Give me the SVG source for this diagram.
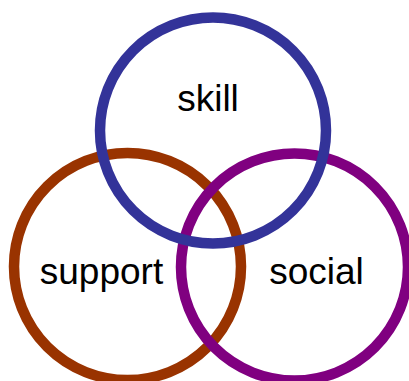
<svg xmlns="http://www.w3.org/2000/svg" width="409" height="381" viewBox="0 0 409 381">
<style>
.c{fill:none;stroke-width:10.5}
.t{font-family:"Liberation Sans",Arial,sans-serif;font-size:37px;fill:#000;text-anchor:middle}
</style>
<rect width="409" height="381" fill="#fff"/>
<g id="support">
<circle class="c" cx="127.5" cy="266.5" r="113.5" stroke="#993300"/>
</g>
<g id="social">
<circle class="c" cx="294.5" cy="267" r="113.5" stroke="#800080"/>
</g>
<g id="skill">
<circle class="c" cx="213" cy="130.5" r="113" stroke="#333399"/>
</g>
<g id="labels">
<text class="t" x="208" y="111">skill</text>
<text class="t" x="101.5" y="284">support</text>
<text class="t" x="316.5" y="284">social</text>
</g>
<g id="connectors"></g>
</svg>
